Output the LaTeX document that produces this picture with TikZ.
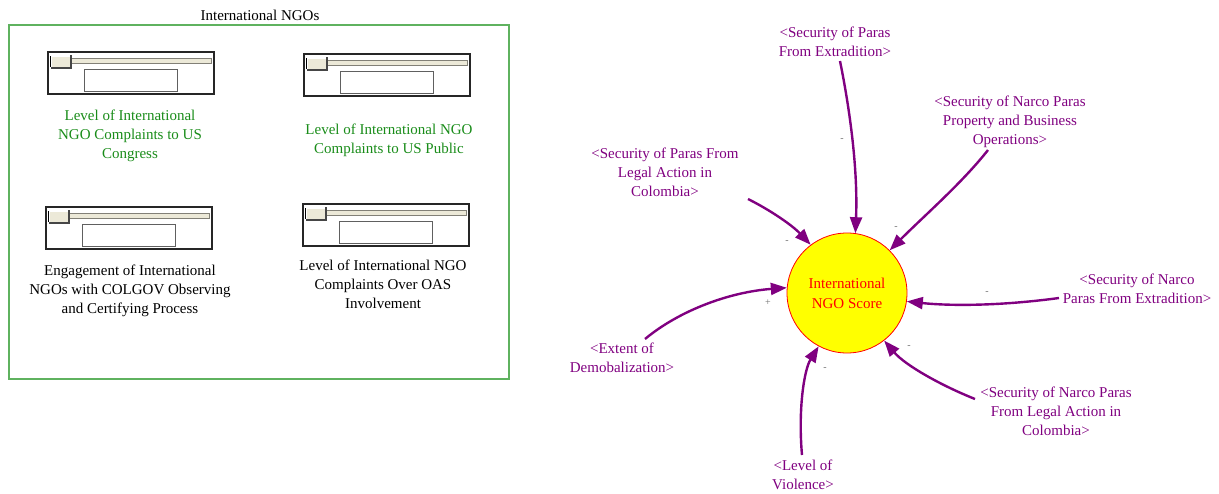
\documentclass[tikz,border=0pt]{standalone}
\usepackage{fontspec}
\setmainfont{Liberation Serif}
\usetikzlibrary{arrows.meta}
\definecolor{linkpurple}{RGB}{128,0,128}
\definecolor{framegreen}{RGB}{95,178,95}
\definecolor{labelgreen}{RGB}{25,140,25}
\definecolor{slidebeige}{RGB}{236,233,216}
\definecolor{knobshade}{RGB}{70,70,70}
\definecolor{signgray}{RGB}{110,110,110}
\definecolor{scorered}{RGB}{255,0,0}
\definecolor{scoreyellow}{RGB}{255,255,0}
\tikzset{
  txt/.style={font=\fontsize{15}{19}\selectfont, align=center, inner sep=0pt},
  vname/.style={txt, text=linkpurple},
  sign/.style={font=\fontsize{10}{12}\selectfont, text=signgray, inner sep=0pt},
  link/.style={draw=linkpurple, line width=2.4pt, -{Triangle[length=16pt,width=12pt]}},
  slider/.pic={
    \draw[black!85, line width=1.2pt] (0,0) rectangle (166,42);
    \draw[slidebeige!55!black, fill=slidebeige, line width=0.6pt] (2,6) rectangle (163,11);
    \draw[black, line width=0.8pt] (2,4) -- (2,15);
    \fill[slidebeige] (3,4) rectangle (23,16);
    \draw[white, line width=0.8pt] (3,16) -- (3,4) -- (23,4);
    \draw[knobshade, line width=1.6pt] (3,16) -- (23,16) -- (23,3);
    \draw[gray!75!black, fill=white, line width=0.9pt] (36,17) rectangle (129,39);
  }
}
\begin{document}
\begin{tikzpicture}[x=1pt, y=-1pt]
\useasboundingbox (0,0) rectangle (1219,493);

% ---- control panel ----
\node[txt] (paneltitle) at (260,15) {International NGOs};
\draw[draw=framegreen, line width=1.4pt] (9,25) rectangle (509,379);

\pic (s1) at (48,52) {slider};
\pic (s2) at (304,54) {slider};
\pic (s3) at (46,207) {slider};
\pic (s4) at (303,204) {slider};

\node[txt, text=labelgreen] (l1) at (130,136) {Level of International\\NGO Complaints to US\\Congress};
\node[txt, text=labelgreen] (l2) at (389,140) {Level of International NGO\\Complaints to US Public};
\node[txt] (l3) at (130,291) {Engagement of International\\NGOs with COLGOV Observing\\and Certifying Process};
\node[txt] (l4) at (383,284) {Level of International NGO\\Complaints Over OAS\\Involvement};

% ---- causal view ----
\node[circle, draw=scorered, fill=scoreyellow, line width=0.8pt, minimum size=120pt, inner sep=0pt,
      txt, font=\fontsize{15}{20}\selectfont, text=scorered] (score) at (847,293) {International\\NGO Score};

\node[vname] (parasext) at (835,42) {<Security of Paras\\From Extradition>};
\node[vname] (narcoprop) at (1010,122) {<Security of Narco Paras\\Property and Business\\Operations>};
\node[vname] (paraslegal) at (665,172) {<Security of Paras From\\Legal Action in\\Colombia>};
\node[vname] (narcoext) at (1137,289) {<Security of Narco\\Paras From Extradition>};
\node[vname] (demob) at (622,358) {<Extent of\\Demobalization>};
\node[vname] (violence) at (803,475) {<Level of\\Violence>};
\node[vname] (narcolegal) at (1056,411) {<Security of Narco Paras\\From Legal Action in\\Colombia>};

\coordinate (c1) at (840,61);
\coordinate (c2) at (988,150);
\coordinate (c3) at (748,199);
\coordinate (c4) at (1059,298);
\coordinate (c5) at (645,339);
\coordinate (c6) at (802,455);
\coordinate (c7) at (975,399);

\draw[link] (c1) .. controls (850,110) and (858,170) .. (score.82);
\draw[link] (c2) .. controls (962,183) and (925,215) .. (score.45);
\draw[link] (c3) .. controls (770,210) and (792,225) .. (score.127);
\draw[link] (c4) .. controls (1000,306) and (950,306) .. (score.-8);
\draw[link] (c5) .. controls (680,310) and (730,292) .. (score.175);
\draw[link] (c6) .. controls (798,410) and (804,370) .. (score.-118);
\draw[link] (c7) .. controls (940,385) and (905,365) .. (score.-52);

\node[sign] (p1) at (842,140) {-};
\node[sign] (p2) at (896,228) {-};
\node[sign] (p3) at (787,242) {-};
\node[sign] (p4) at (987,293) {-};
\node[sign] (p5) at (768,303) {+};
\node[sign] (p6) at (825,369) {-};
\node[sign] (p7) at (909,347) {-};
\end{tikzpicture}
\end{document}
